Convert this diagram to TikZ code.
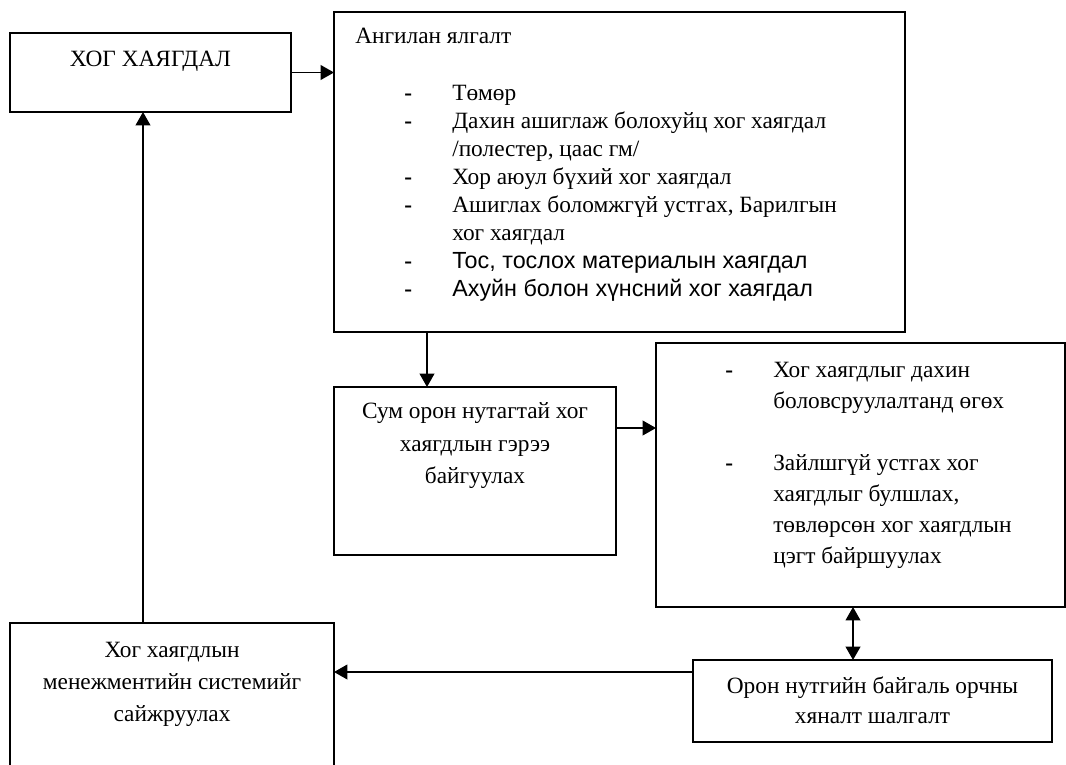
\documentclass[tikz,border=0pt]{standalone}
\usepackage{fontspec}
\setmainfont{Liberation Serif}
\setsansfont{Liberation Sans}
\usetikzlibrary{arrows.meta, positioning}

\tikzset{
  flowbox/.style={draw=black, line width=1.4pt, inner sep=0pt, outer sep=0pt},
  lbl/.style={inner sep=0pt, font=\fontsize{17.5pt}{21pt}\selectfont},
  arr/.style={-{Triangle[length=10pt,width=11pt]}, line width=1.3pt},
  darr/.style={{Triangle[length=10pt,width=11pt]}-{Triangle[length=10pt,width=11pt]}, line width=1.3pt},
}

\begin{document}
\begin{tikzpicture}[x=0.75pt, y=-0.75pt, line join=miter]
  \useasboundingbox (0,0) rectangle (1066,764);

  %% boxes
  \node[flowbox, minimum width=281*0.75pt, minimum height=79*0.75pt]  (waste)    at (150.5,72.5) {};
  \node[flowbox, minimum width=571*0.75pt, minimum height=320*0.75pt] (sorting)  at (619.5,172)  {};
  \node[flowbox, minimum width=282*0.75pt, minimum height=168*0.75pt] (contract) at (475,471)    {};
  \node[flowbox, minimum width=409*0.75pt, minimum height=264*0.75pt] (dispose)  at (860.5,475)  {};
  \node[flowbox, minimum width=359*0.75pt, minimum height=82*0.75pt]  (control)  at (872.5,701)  {};
  \node[flowbox, minimum width=324*0.75pt, minimum height=152*0.75pt] (manage)   at (172,699)    {};

  %% texts
  \node[lbl] (wastetxt) at (150.5,61) {ХОГ ХАЯГДАЛ};
  \node[lbl, anchor=base west] (sorttitle) at (355,43) {Ангилан ялгалт};
  \node[lbl, anchor=north west] (sortlist) at (404,81) {%
    \renewcommand\arraystretch{1}%
    \begin{tabular}{@{}p{36pt}@{}l@{}}
      \textbf{-} & Төмөр\\
      \textbf{-} & Дахин ашиглаж болохуйц хог хаягдал\\
                 & /полестер, цаас гм/\\
      \textbf{-} & Хор аюул бүхий хог хаягдал\\
      \textbf{-} & Ашиглах боломжгүй устгах, Барилгын\\
                 & хог хаягдал\\
      \textbf{-} & \sffamily Тос, тослох материалын хаягдал\\
      \textbf{-} & \sffamily Ахуйн болон хүнсний хог хаягдал
    \end{tabular}};
  \node[lbl, anchor=north, align=center, font=\fontsize{17.5pt}{24.6pt}\selectfont] (contracttxt) at (475,402)
    {Сум орон нутагтай хог\\хаягдлын гэрээ\\байгуулах};
  \node[lbl, anchor=north west, font=\fontsize{17.5pt}{23.3pt}\selectfont] (disposelist) at (725,355) {%
    \renewcommand\arraystretch{1}%
    \begin{tabular}{@{}p{36pt}@{}l@{}}
      \textbf{-} & Хог хаягдлыг дахин\\
                 & боловсруулалтанд өгөх\\
                 & \\
      \textbf{-} & Зайлшгүй устгах хог\\
                 & хаягдлыг булшлах,\\
                 & төвлөрсөн хог хаягдлын\\
                 & цэгт байршуулах
    \end{tabular}};
  \node[lbl, anchor=north, align=center, font=\fontsize{17.5pt}{22.5pt}\selectfont] (controltxt) at (872.5,677)
    {Орон нутгийн байгаль орчны\\хяналт шалгалт};
  \node[lbl, anchor=north, align=center, font=\fontsize{17.5pt}{23.8pt}\selectfont] (managetxt) at (172,642)
    {Хог хаягдлын\\менежментийн системийг\\сайжруулах};

  %% connectors
  \coordinate (sc) at ([xshift=69.75pt]sorting.south west);
  \coordinate (cd) at ([yshift=-30.75pt]contract.north east);
  \coordinate (de) at ([xshift=120pt]control.north west);
  \coordinate (ef) at ([yshift=-9pt]control.north west);
  \coordinate (fa) at ([xshift=99.75pt]manage.north west);

  \draw[arr] (waste.east) -- (waste.east -| sorting.west);
  \draw[arr] (sc) -- (sc |- contract.north);
  \draw[arr] (cd) -- (cd -| dispose.west);
  \draw[darr] (de |- dispose.south) -- (de);
  \draw[arr] (ef) -- (ef -| manage.east);
  \draw[arr] (fa) -- (fa |- waste.south);
\end{tikzpicture}
\end{document}
